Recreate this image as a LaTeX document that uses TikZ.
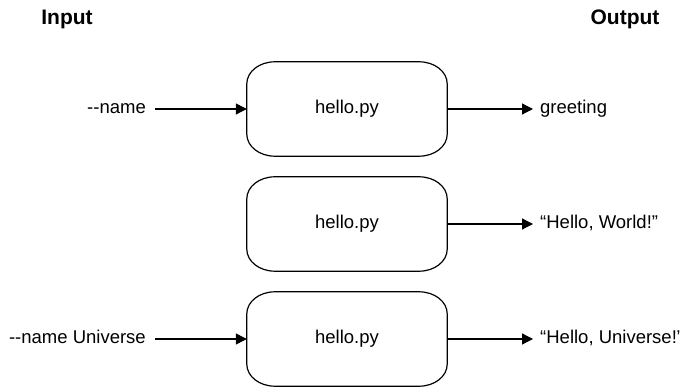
\documentclass[tikz,border=0pt]{standalone}
\usepackage{fontspec}
\setmainfont{Liberation Sans}
\usepackage{tikz}
\usetikzlibrary{calc}
\usetikzlibrary{arrows.meta}
\usetikzlibrary{positioning}
\newcommand{\pybox}[1]{\draw[BoxLine] ($(#1.north west)+(28pt,0pt)$) -- ($(#1.north east)+(-28pt,0pt)$) arc[start angle=90,end angle=0,x radius=28pt,y radius=22pt] -- ($(#1.south east)+(0pt,22pt)$) arc[start angle=0,end angle=-90,x radius=28pt,y radius=22pt] -- ($(#1.south west)+(28pt,0pt)$) arc[start angle=270,end angle=180,x radius=28pt,y radius=22pt] -- ($(#1.north west)+(0pt,-22pt)$) arc[start angle=180,end angle=90,x radius=28pt,y radius=22pt] -- cycle}

\begin{document}
\begin{tikzpicture}[
x=1pt,y=-1pt,
BoxLine/.style={draw=black,line width=1.2pt},
PyNode/.style={minimum width=200pt,minimum height=94pt,inner sep=0pt,font=\fontsize{18.5pt}{22pt}\selectfont},
Heads/.style={font=\fontsize{21pt}{24pt}\selectfont\bfseries},
Words/.style={inner sep=0pt,text height=13pt,text depth=4pt,font=\fontsize{18.5pt}{22pt}\selectfont},
Flow/.style={-{Triangle[length=11pt,width=11pt]},line width=1.2pt}
]
\useasboundingbox (0,0) rectangle (680,387);

\pgfmathparse{109}		\let\Ya\pgfmathresult
\pgfmathparse{224}		\let\Yb\pgfmathresult
\pgfmathparse{339}		\let\Yc\pgfmathresult

\node[Heads] (In) at (67,19) {Input};
\node[Heads] (Out) at (625,19) {Output};

\node[PyNode] (PyA) at (347,\Ya) {hello.py};
\node[PyNode] (PyB) at (347,\Yb) {hello.py};
\node[PyNode] (PyC) at (347,\Yc) {hello.py};
\pybox{PyA};
\pybox{PyB};
\pybox{PyC};

\node[Words,anchor=east] (ArgA) at (146,\Ya) {-{}-name};
\node[Words,anchor=east] (ArgC) at (146,\Yc) {-{}-name Universe};

\node[Words,anchor=west] (ResA) at (540,\Ya) {greeting};
\node[Words,anchor=west] (ResB) at (540,\Yb) {“Hello, World!”};
\node[Words,anchor=west] (ResC) at (540,\Yc) {“Hello, Universe!”};

\draw[Flow,shorten <=9pt] (ArgA) -- (PyA);
\draw[Flow,shorten <=9pt] (ArgC) -- (PyC);

\draw[Flow,shorten >=7pt] (PyA) -- (ResA);
\draw[Flow,shorten >=7pt] (PyB) -- (ResB);
\draw[Flow,shorten >=7pt] (PyC) -- (ResC);

\end{tikzpicture}
\end{document}
